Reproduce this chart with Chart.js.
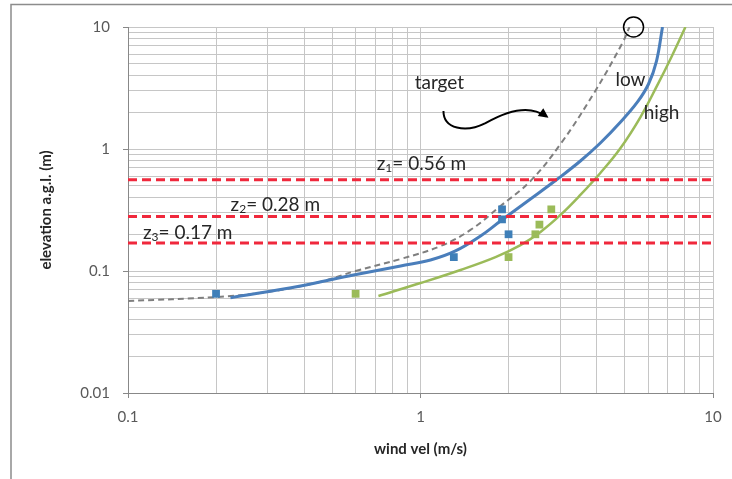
<!DOCTYPE html>
<html>
<head>
<meta charset="utf-8">
<script src="https://cdn.jsdelivr.net/npm/chart.js@4"></script>
<style>
  html, body { margin: 0; padding: 0; background: #fff; }
  canvas { display: block; }
</style>
</head>
<body>
<canvas id="windChart" width="732" height="479"></canvas>
<script>
// axis grid + labels
const xGrid = [0.1,0.2,0.3,0.4,0.5,0.6,0.7,0.8,0.9,1,2,3,4,5,6,7,8,9,10];
const yGrid = [0.01,0.02,0.03,0.04,0.05,0.06,0.07,0.08,0.09,0.1,0.2,0.3,0.4,0.5,0.6,0.7,0.8,0.9,1,2,3,4,5,6,7,8,9,10];
const xTickLabels = ['0.1', '1', '10'];
const yTickLabels = ['0.01', '0.1', '1', '10'];

// measured points (squares)
const lowMeasX = [0.2, 1.3, 1.9, 1.9, 2.0];
const lowMeasY = [0.065, 0.13, 0.32, 0.265, 0.2];
const highMeasX = [0.6, 2.0, 2.47, 2.55, 2.8];
const highMeasY = [0.065, 0.13, 0.2, 0.24, 0.32];

// fitted curves
const lowFitX = [0.224, 0.389, 0.59, 0.855, 1.082, 1.317, 1.604, 1.877, 2.377, 2.94, 3.52, 4.12, 4.83, 5.52, 6.02, 6.41, 6.72];
const lowFitY = [0.0604, 0.0754, 0.0927, 0.11, 0.123, 0.146, 0.1936, 0.257, 0.389, 0.567, 0.797, 1.12, 1.665, 2.43, 3.41, 5.26, 10];
const highFitX = [0.718, 1.0, 1.37, 1.805, 2.197, 2.572, 3.01, 3.52, 4.12, 4.83, 5.65, 6.46, 7.21, 8.05];
const highFitY = [0.0624, 0.0797, 0.102, 0.13, 0.163, 0.209, 0.288, 0.42, 0.636, 1.019, 1.829, 3.35, 5.68, 10];
const targetX = [0.1, 0.2, 0.3, 0.452, 0.6, 0.855, 1.17, 1.482, 1.877, 2.377, 3.01, 3.9, 4.9, 5.18];
const targetY = [0.0568, 0.0612, 0.0673, 0.0813, 0.1, 0.1254, 0.16, 0.217, 0.341, 0.547, 1.099, 2.82, 7.39, 10];

// reference elevations
const zLevels = [0.56, 0.28, 0.17];
const zNames = ['1', '2', '3'];

const pts = (xs, ys) => xs.map((x, i) => ({ x: x, y: ys[i] }));
const xMin = xGrid[0], xMax = xGrid[xGrid.length - 1];

const zLines = zLevels.map(z => ({
    data: [{ x: xMin, y: z }, { x: xMax, y: z }],
    borderColor: '#f0283c',
    borderWidth: 3,
    borderDash: [9, 5],
    pointRadius: 0,
    showLine: true
}));

// text placed in data units
const notes = [
    { text: 'target', x: 1.16, y: 3.47 },
    { text: 'low', x: 5.22, y: 3.68 },
    { text: 'high', x: 6.67, y: 1.97 }
];
const zNotes = [
    { x: 1.008, y: 0.75 },
    { x: 0.319, y: 0.347 },
    { x: 0.16, y: 0.205 }
];

const extras = {
    id: 'extras',
    beforeDraw(chart) {
        const c = chart.ctx;
        c.save();
        c.fillStyle = '#fff';
        c.fillRect(0, 0, chart.width, chart.height);
        c.strokeStyle = '#8c8c8c';
        c.lineWidth = 1.5;
        c.strokeRect(11, 4.5, chart.width + 5, chart.height + 5);
        c.restore();
    },
    afterDraw(chart) {
        const c = chart.ctx, sx = chart.scales.x, sy = chart.scales.y;
        const px = v => sx.getPixelForValue(v), py = v => sy.getPixelForValue(v);
        c.save();
        c.fillStyle = '#262626';
        c.textBaseline = 'middle';
        c.textAlign = 'center';
        c.font = '19px Lato';
        notes.forEach(n => c.fillText(n.text, px(n.x), py(n.y)));

        // z labels with subscript
        zNotes.forEach((n, i) => {
            const rest = '= ' + zLevels[i].toFixed(2) + ' m';
            c.font = '19px Lato';
            const wz = c.measureText('z').width, wr = c.measureText(rest).width;
            c.font = '12px Lato';
            const ws = c.measureText(zNames[i]).width;
            let x = px(n.x) - (wz + ws + wr) / 2;
            const y = py(n.y);
            c.textAlign = 'left';
            c.font = '19px Lato';
            c.fillText('z', x, y);
            c.font = '12px Lato';
            c.fillText(zNames[i], x + wz, y + 4);
            c.font = '19px Lato';
            c.fillText(rest, x + wz + ws, y);
        });

        // circle at the end of target curve
        c.strokeStyle = '#000';
        c.lineWidth = 1.5;
        c.beginPath();
        c.arc(px(5.35), py(10), 10, 0, Math.PI * 2);
        c.stroke();

        // wavy arrow
        c.lineWidth = 2;
        c.beginPath();
        c.moveTo(px(1.198), py(2.05));
        c.bezierCurveTo(px(1.198), py(1.46), px(1.425), py(1.35), px(1.668), py(1.63));
        c.bezierCurveTo(px(2.03), py(2.13), px(2.377), py(2.3), px(2.68), py(1.85));
        c.stroke();
        const tx = px(2.74), ty = py(1.8);
        const ang = Math.atan2(ty - py(2.3), tx - px(2.377));
        c.fillStyle = '#000';
        c.beginPath();
        c.moveTo(tx, ty);
        c.lineTo(tx - 11 * Math.cos(ang - 0.45), ty - 11 * Math.sin(ang - 0.45));
        c.lineTo(tx - 11 * Math.cos(ang + 0.45), ty - 11 * Math.sin(ang + 0.45));
        c.closePath();
        c.fill();
        c.restore();
    }
};

Chart.defaults.font.family = 'Lato';

new Chart(document.getElementById('windChart').getContext('2d'), {
    type: 'scatter',
    data: {
        datasets: [
            { data: pts(lowMeasX, lowMeasY), pointStyle: 'rect', pointRadius: 5.5, backgroundColor: '#3f7fb8', borderWidth: 0 },
            { data: pts(highMeasX, highMeasY), pointStyle: 'rect', pointRadius: 5.5, backgroundColor: '#9bbb59', borderWidth: 0 },
            ...zLines,
            { data: pts(lowFitX, lowFitY), showLine: true, borderColor: '#4a7ebb', borderWidth: 3, pointRadius: 0, tension: 0.4 },
            { data: pts(highFitX, highFitY), showLine: true, borderColor: '#9bbb59', borderWidth: 2.5, pointRadius: 0, tension: 0.4 },
            { data: pts(targetX, targetY), showLine: true, borderColor: '#7f7f7f', borderWidth: 2, borderDash: [6, 4], pointRadius: 0, tension: 0.4 }
        ]
    },
    options: {
        responsive: false,
        animation: false,
        devicePixelRatio: 1,
        layout: { padding: { top: 27, right: 19, left: 0, bottom: 0 } },
        plugins: { legend: { display: false }, tooltip: { enabled: false } },
        scales: {
            x: {
                type: 'logarithmic',
                min: xMin, max: xMax,
                afterBuildTicks: s => { s.ticks = xGrid.map(v => ({ value: v })); },
                afterFit: s => { s.height = 86; s.paddingLeft = 0; s.paddingRight = 0; },
                ticks: {
                    autoSkip: false, maxRotation: 0, padding: 10,
                    color: '#595959', font: { size: 15 },
                    callback: v => { const t = String(+v.toPrecision(3)); return xTickLabels.includes(t) ? t : ''; }
                },
                grid: {
                    color: '#c6c6c6', lineWidth: 1, tickLength: 5,
                    tickColor: ctx => xTickLabels.includes(String(ctx.tick && +ctx.tick.value.toPrecision(3))) ? '#888' : 'rgba(0,0,0,0)'
                },
                border: { color: '#888', width: 1 },
                title: { display: true, text: 'wind vel (m/s)', color: '#262626', font: { size: 15, weight: 'bold' }, padding: { top: 0, bottom: 21 } }
            },
            y: {
                type: 'logarithmic',
                min: yGrid[0], max: yGrid[yGrid.length - 1],
                afterBuildTicks: s => { s.ticks = yGrid.map(v => ({ value: v })); },
                afterFit: s => { s.width = 128; s.paddingTop = 0; s.paddingBottom = 0; },
                ticks: {
                    autoSkip: false, padding: 13,
                    color: '#595959', font: { size: 15 },
                    callback: v => { const t = String(+v.toPrecision(3)); return yTickLabels.includes(t) ? t : ''; }
                },
                grid: {
                    color: '#c6c6c6', lineWidth: 1, tickLength: 5,
                    tickColor: ctx => yTickLabels.includes(String(ctx.tick && +ctx.tick.value.toPrecision(3))) ? '#888' : 'rgba(0,0,0,0)'
                },
                border: { color: '#888', width: 1 },
                title: { display: true, text: 'elevation a.g.l. (m)', color: '#262626', font: { size: 15, weight: 'bold' }, padding: { top: 37, bottom: 0 } }
            }
        }
    },
    plugins: [extras]
});
</script>
</body>
</html>
